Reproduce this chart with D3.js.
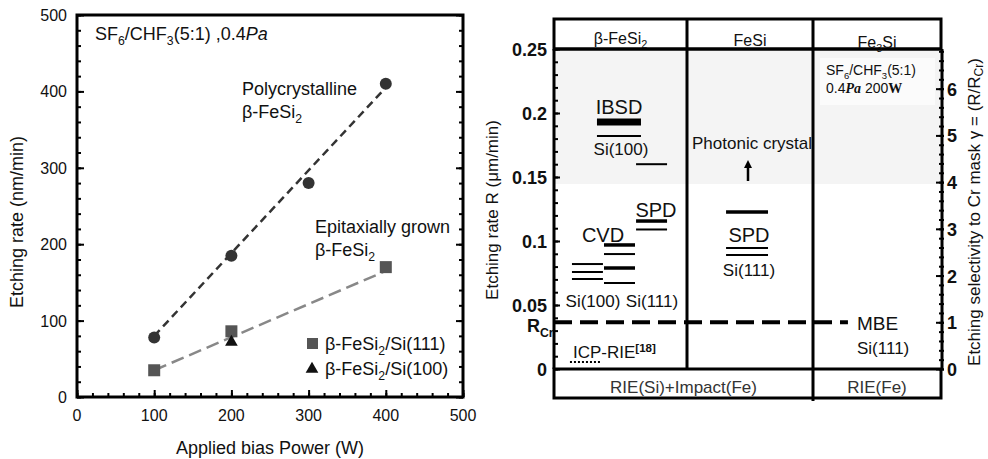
<!DOCTYPE html>
<html>
<head>
<script src="https://d3js.org/d3.v7.min.js"></script>
<style>
  body { margin: 0; background: #fff; }
  text { font-family: "Liberation Sans", Arial, sans-serif; fill: #111; }
</style>
</head>
<body>
<script>
// ---- left panel data (etching rate vs bias power) ----
var polyPower = [100, 200, 300, 400];
var polyRate = [78, 185, 280, 410];
var epiPower = [100, 200, 400];
var epiRate = [35, 86, 170];
var si100Point = [[200, 72]];
var polyFit = [[100, 80], [400, 405]];
var epiFit = [[100, 35], [400, 165]];
var powerTicks = [0, 100, 200, 300, 400, 500];
var rateTicks = [0, 100, 200, 300, 400, 500];

// ---- right panel data (etching rate by phase) ----
var rTicks = [0, 0.05, 0.1, 0.15, 0.2, 0.25];
var gammaTicks = [0, 1, 2, 3, 4, 5, 6];
var rCr = 0.0365;
var shadeFrom = 0.1445;
// [from, to (column units), R]
var ibsdBar = [[0.323, 0.654, 0.193]];
var thickLines = [[0.617, 0.85, 0.1156], [0.376, 0.609, 0.0969], [0.376, 0.609, 0.0789], [1.31, 1.643, 0.1227]];
var thinLines = [[0.323, 0.654, 0.182], [0.617, 0.85, 0.160], [0.617, 0.85, 0.109],
                 [0.376, 0.609, 0.0898], [0.376, 0.609, 0.0672],
                 [0.135, 0.368, 0.082], [0.135, 0.368, 0.0758], [0.135, 0.368, 0.0703],
                 [1.31, 1.643, 0.0945], [1.31, 1.643, 0.089]];
var icpLine = [[0.12, 0.346, 0.0055]];
var mbeEnd = 2.273;

var svg = d3.select("body").append("svg")
  .attr("width", 988).attr("height", 459);

// =============== LEFT PANEL ===============
var x = d3.scaleLinear().domain([0, 500]).range([77, 463]);
var y = d3.scaleLinear().domain([0, 500]).range([397, 15]);

var L = svg.append("g");

// minor + major ticks (inside)
function ticksIn(g, axis) { g.call(axis); g.select(".domain").remove(); g.selectAll("line").attr("stroke", "#000").attr("stroke-width", 2); }
L.append("g").attr("transform", "translate(0,397)").call(ticksIn, d3.axisBottom(x).tickValues(d3.range(0, 501, 20)).tickSize(-4).tickFormat(""));
L.append("g").attr("transform", "translate(0,397)").call(ticksIn, d3.axisBottom(x).tickValues(powerTicks).tickSize(-7).tickFormat(""));
L.append("g").attr("transform", "translate(77,0)").call(ticksIn, d3.axisLeft(y).tickValues(d3.range(0, 501, 20)).tickSize(-4).tickFormat(""));
L.append("g").attr("transform", "translate(77,0)").call(ticksIn, d3.axisLeft(y).tickValues(rateTicks).tickSize(-7).tickFormat(""));
L.append("g").attr("transform", "translate(463,0)").call(ticksIn, d3.axisRight(y).tickValues(d3.range(0, 501, 20)).tickSize(-4).tickFormat(""));
L.append("g").attr("transform", "translate(463,0)").call(ticksIn, d3.axisRight(y).tickValues(rateTicks).tickSize(-7).tickFormat(""));

L.append("rect").attr("x", 77).attr("y", 15).attr("width", 386).attr("height", 382)
  .attr("fill", "none").attr("stroke", "#000").attr("stroke-width", 3);

L.selectAll(".xl").data(powerTicks).enter().append("text")
  .attr("x", d => x(d)).attr("y", 421).attr("text-anchor", "middle")
  .attr("font-size", 16).text(d => d);
L.selectAll(".yl").data(rateTicks).enter().append("text")
  .attr("x", 67).attr("y", d => y(d) + 6).attr("text-anchor", "end")
  .attr("font-size", 16).text(d => d);

L.append("text").attr("x", 270).attr("y", 454).attr("text-anchor", "middle")
  .attr("font-size", 18).text("Applied bias Power (W)");
L.append("text").attr("transform", "translate(23,222) rotate(-90)").attr("text-anchor", "middle")
  .attr("font-size", 18).text("Etching rate (nm/min)");

var line = d3.line().x(d => x(d[0])).y(d => y(d[1]));
L.append("path").attr("d", line(polyFit)).attr("fill", "none").attr("stroke", "#333")
  .attr("stroke-width", 2.5).attr("stroke-dasharray", "8 5");
L.append("path").attr("d", line(epiFit)).attr("fill", "none").attr("stroke", "#888")
  .attr("stroke-width", 2.5).attr("stroke-dasharray", "13 6");

L.selectAll(".pc").data(polyPower).enter().append("circle")
  .attr("cx", d => x(d)).attr("cy", (d, i) => y(polyRate[i])).attr("r", 6).attr("fill", "#333");
L.selectAll(".es").data(epiPower).enter().append("rect")
  .attr("x", d => x(d) - 6).attr("y", (d, i) => y(epiRate[i]) - 6)
  .attr("width", 12).attr("height", 12).attr("fill", "#555");
var tri = d3.symbol().type(d3.symbolTriangle).size(70);
L.selectAll(".et").data(si100Point).enter().append("path")
  .attr("d", tri).attr("transform", d => "translate(" + x(d[0]) + "," + y(d[1]) + ")").attr("fill", "#111");

function label(g, px, py, size, parts, anchor) {
  var t = g.append("text").attr("x", px).attr("y", py).attr("font-size", size)
    .attr("text-anchor", anchor || "start");
  parts.forEach(function (p) {
    var s = t.append("tspan").text(p[0]);
    if (p[1] === "sub") s.attr("font-size", size * 0.68).attr("dy", size * 0.28);
    if (p[1] === "sup") s.attr("font-size", size * 0.68).attr("dy", -size * 0.38).attr("font-weight", "bold");
    if (p[1] === "back") s.attr("dy", -size * 0.28);
    if (p[1] === "it") s.attr("font-style", "italic");
    if (p[1] === "serifbi") s.attr("font-family", "Liberation Serif, serif").attr("font-style", "italic").attr("font-weight", "bold");
    if (p[1] === "serifb") s.attr("font-family", "Liberation Serif, serif").attr("font-weight", "bold");
  });
  return t;
}

label(L, 95, 40, 18, [["SF"], ["6", "sub"], ["/CHF", "back"], ["3", "sub"], ["(5:1) ,0.4", "back"], ["Pa", "it"]]);
label(L, 242, 95, 18, [["Polycrystalline"]]);
label(L, 242, 118, 18, [["β-FeSi"], ["2", "sub"]]);
label(L, 315, 233, 18, [["Epitaxially grown"]]);
label(L, 315, 256, 18, [["β-FeSi"], ["2", "sub"]]);

L.append("rect").attr("x", 307).attr("y", 338).attr("width", 11).attr("height", 11).attr("fill", "#555");
label(L, 325, 350, 18, [["β-FeSi"], ["2", "sub"], ["/Si(111)", "back"]]);
L.append("path").attr("d", tri).attr("transform", "translate(312,369)").attr("fill", "#111");
label(L, 325, 375, 18, [["β-FeSi"], ["2", "sub"], ["/Si(100)", "back"]]);

// =============== RIGHT PANEL ===============
var col = d3.scaleLinear().domain([0, 1, 2, 3]).range([554, 687, 813, 941]);
var r = d3.scaleLinear().domain([0, 0.25]).range([369, 49]);
var g = d3.scaleLinear().domain([0, 0.25 / rCr]).range([369, 49]);

var R = svg.append("g");

R.append("rect").attr("x", col(0)).attr("y", 49).attr("width", col(3) - col(0))
  .attr("height", r(shadeFrom) - 49).attr("fill", "#f4f4f4");
R.append("rect").attr("x", 820).attr("y", 58).attr("width", 115).attr("height", 47).attr("fill", "#fbfbfb");

// left axis ticks
R.append("g").attr("transform", "translate(554,0)").call(ticksIn, d3.axisLeft(r).tickValues(d3.range(0, 0.251, 0.01)).tickSize(-4).tickFormat(""));
R.append("g").attr("transform", "translate(554,0)").call(ticksIn, d3.axisLeft(r).tickValues(rTicks).tickSize(-6).tickFormat(""));
R.selectAll(".rl").data(rTicks).enter().append("text")
  .attr("x", 547).attr("y", d => r(d) + 7).attr("text-anchor", "end")
  .attr("font-size", 18).attr("font-weight", "bold").text(d => d);
label(R, 527, 332, 18, [["R"], ["Cr", "sub"]]).attr("font-weight", "bold");

// right axis ticks
function ticksCross(gg, axis, inner, outer) {
  gg.call(axis); gg.select(".domain").remove();
  gg.selectAll("line").attr("stroke", "#000").attr("stroke-width", 2).attr("x1", -inner).attr("x2", outer);
}
R.append("g").attr("transform", "translate(942,0)").call(ticksCross, d3.axisRight(g).tickValues(d3.range(0, 6.81, 0.2)).tickFormat(""), 3, 2);
R.append("g").attr("transform", "translate(942,0)").call(ticksCross, d3.axisRight(g).tickValues(gammaTicks).tickFormat(""), 6, 2);
R.selectAll(".gl").data(gammaTicks).enter().append("text")
  .attr("x", 947).attr("y", d => g(d) + 7)
  .attr("font-size", 18).attr("font-weight", "bold").text(d => d);

// frame lines
var frame = R.append("g").attr("stroke", "#000").attr("stroke-width", 3);
frame.append("rect").attr("x", col(0)).attr("y", 19).attr("width", col(3) - col(0)).attr("height", 30).attr("fill", "none");
frame.append("rect").attr("x", col(0)).attr("y", 369).attr("width", col(3) - col(0)).attr("height", 29).attr("fill", "none");
frame.append("line").attr("x1", col(0)).attr("x2", col(0)).attr("y1", 49).attr("y2", 369);
frame.append("line").attr("x1", 942).attr("x2", 942).attr("y1", 49).attr("y2", 369);
frame.append("line").attr("x1", col(1)).attr("x2", col(1)).attr("y1", 19).attr("y2", 369);
frame.append("line").attr("x1", col(2)).attr("x2", col(2)).attr("y1", 19).attr("y2", 401);

// header
label(R, (col(0) + col(1)) / 2, 44, 16, [["β-FeSi"], ["2", "sub"]], "middle");
label(R, (col(1) + col(2)) / 2, 46, 16, [["FeSi"]], "middle");
label(R, (col(2) + col(3)) / 2, 48, 16, [["Fe"], ["3", "sub"], ["Si", "back"]], "middle");
frame.append("line").attr("x1", col(0)).attr("x2", col(3)).attr("y1", 49).attr("y2", 49);

// bottom band
R.append("text").attr("x", (col(0) + col(2)) / 2).attr("y", 393).attr("text-anchor", "middle")
  .attr("font-size", 17).style("fill", "#333").text("RIE(Si)+Impact(Fe)");
R.append("text").attr("x", (col(2) + col(3)) / 2).attr("y", 393).attr("text-anchor", "middle")
  .attr("font-size", 17).style("fill", "#333").text("RIE(Fe)");

// level marks
function segs(data, w) {
  R.append("g").selectAll("line").data(data).enter().append("line")
    .attr("x1", d => col(d[0])).attr("x2", d => col(d[1]))
    .attr("y1", d => r(d[2])).attr("y2", d => r(d[2]))
    .attr("stroke", "#000").attr("stroke-width", w);
}
segs(ibsdBar, 7);
segs(thickLines, 3.5);
segs(thinLines, 2);
R.append("g").selectAll("line").data(icpLine).enter().append("line")
  .attr("x1", d => col(d[0])).attr("x2", d => col(d[1]))
  .attr("y1", d => r(d[2])).attr("y2", d => r(d[2]))
  .attr("stroke", "#000").attr("stroke-width", 2).attr("stroke-dasharray", "2 2");

R.append("line").attr("x1", col(0)).attr("x2", col(mbeEnd)).attr("y1", r(rCr)).attr("y2", r(rCr))
  .attr("stroke", "#000").attr("stroke-width", 4).attr("stroke-dasharray", "18 8");

// arrow
R.append("line").attr("x1", 748).attr("x2", 748).attr("y1", 181).attr("y2", 166)
  .attr("stroke", "#000").attr("stroke-width", 2.5);
R.append("path").attr("d", "M748,160 L744,168 L752,168 Z").attr("fill", "#000");

// labels
R.append("text").attr("x", 619).attr("y", 114).attr("text-anchor", "middle").attr("font-size", 20).text("IBSD");
R.append("text").attr("x", 621).attr("y", 155).attr("text-anchor", "middle").attr("font-size", 17).text("Si(100)");
R.append("text").attr("x", 752).attr("y", 149).attr("text-anchor", "middle").attr("font-size", 17).text("Photonic crystal");
R.append("text").attr("x", 656).attr("y", 217).attr("text-anchor", "middle").attr("font-size", 20).text("SPD");
R.append("text").attr("x", 603).attr("y", 242).attr("text-anchor", "middle").attr("font-size", 20).text("CVD");
R.append("text").attr("x", 749).attr("y", 242).attr("text-anchor", "middle").attr("font-size", 20).text("SPD");
R.append("text").attr("x", 749).attr("y", 276).attr("text-anchor", "middle").attr("font-size", 17).text("Si(111)");
R.append("text").attr("x", 593).attr("y", 307).attr("text-anchor", "middle").attr("font-size", 17).text("Si(100)");
R.append("text").attr("x", 652).attr("y", 307).attr("text-anchor", "middle").attr("font-size", 17).text("Si(111)");
R.append("text").attr("x", 857).attr("y", 330).attr("font-size", 19).text("MBE");
R.append("text").attr("x", 857).attr("y", 354).attr("font-size", 17).text("Si(111)");
label(R, 573, 358, 17, [["ICP-RIE"], ["[18]", "sup"]]);

label(R, 826, 75, 14, [["SF"], ["6", "sub"], ["/CHF", "back"], ["3", "sub"], ["(5:1)", "back"]]);
label(R, 826, 93, 14, [["0.4"], ["Pa", "serifbi"], ["  200"], ["W", "serifb"]]);

// axis titles
R.append("text").attr("transform", "translate(498,210) rotate(-90)").attr("text-anchor", "middle")
  .attr("font-size", 17).text("Etching rate R (μm/min)");
var selTitle = R.append("text").attr("transform", "translate(980,212) rotate(-90)")
  .attr("text-anchor", "middle").attr("font-size", 17);
selTitle.append("tspan").text("Etching selectivity to Cr mask γ = (R/R");
selTitle.append("tspan").attr("font-size", 12).attr("dy", 3).text("Cr");
selTitle.append("tspan").attr("dy", -3).text(")");
</script>
</body>
</html>
